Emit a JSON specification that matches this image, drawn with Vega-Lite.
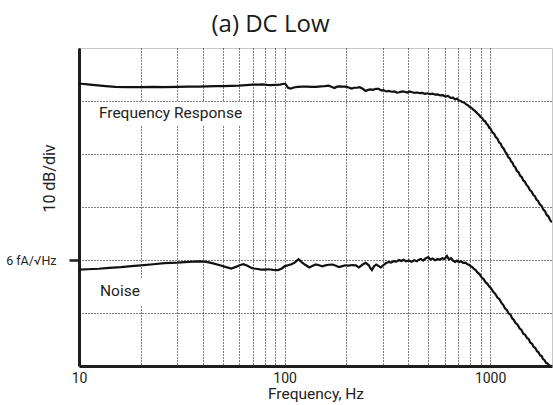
{
  "$schema": "https://vega.github.io/schema/vega-lite/v6.json",
  "width": 473,
  "height": 318,
  "autosize": {"type": "none"},
  "padding": {"left": 79, "top": 48, "right": 1, "bottom": 39},
  "title": {"text": "(a) DC Low", "font": "Open Sans", "fontSize": 24, "fontWeight": "normal", "color": "#1a1a1a", "dx": -45, "dy": 23, "offset": 15, "baseline": "alphabetic"},
  "config": {
    "view": {"stroke": "#c8c8c8", "strokeWidth": 1},
    "font": "Roboto, sans-serif"
  },
  "datasets": {
    "notes": [
      {"label": "Frequency Response", "bx1": 11.7, "bx2": 64.9, "by1": 25.3, "by2": 29.8, "tx": 12.5, "ty": 27.8},
      {"label": "Noise", "bx1": 11.7, "bx2": 21.4, "by1": -8.5, "by2": -3.4, "tx": 12.65, "ty": -5.9}
    ],
    "curves": [
      {"series": "fr", "freq": 10, "db": 33.3}, {"series": "fr", "freq": 11, "db": 33.15}, {"series": "fr", "freq": 12, "db": 33.0}, {"series": "fr", "freq": 13.5, "db": 32.8}, {"series": "fr", "freq": 15, "db": 32.65}, {"series": "fr", "freq": 17, "db": 32.6}, {"series": "fr", "freq": 20, "db": 32.6}, {"series": "fr", "freq": 23, "db": 32.65}, {"series": "fr", "freq": 26, "db": 32.6}, {"series": "fr", "freq": 30, "db": 32.65}, {"series": "fr", "freq": 34, "db": 32.7}, {"series": "fr", "freq": 38, "db": 32.7}, {"series": "fr", "freq": 42, "db": 32.75}, {"series": "fr", "freq": 46, "db": 32.8}, {"series": "fr", "freq": 50, "db": 32.8}, {"series": "fr", "freq": 55, "db": 32.85}, {"series": "fr", "freq": 60, "db": 32.9}, {"series": "fr", "freq": 65, "db": 33.0}, {"series": "fr", "freq": 70, "db": 33.1}, {"series": "fr", "freq": 75, "db": 33.1}, {"series": "fr", "freq": 78, "db": 33.15}, {"series": "fr", "freq": 82, "db": 33.05}, {"series": "fr", "freq": 86, "db": 33.0}, {"series": "fr", "freq": 90, "db": 33.05}, {"series": "fr", "freq": 95, "db": 33.1}, {"series": "fr", "freq": 99, "db": 33.25}, {"series": "fr", "freq": 101, "db": 33.2}, {"series": "fr", "freq": 104, "db": 32.5}, {"series": "fr", "freq": 107, "db": 32.35}, {"series": "fr", "freq": 111, "db": 32.55}, {"series": "fr", "freq": 116, "db": 32.65}, {"series": "fr", "freq": 122, "db": 32.7}, {"series": "fr", "freq": 128, "db": 32.7}, {"series": "fr", "freq": 135, "db": 32.65}, {"series": "fr", "freq": 142, "db": 32.65}, {"series": "fr", "freq": 150, "db": 32.75}, {"series": "fr", "freq": 157, "db": 32.8}, {"series": "fr", "freq": 164, "db": 32.9}, {"series": "fr", "freq": 170, "db": 32.65}, {"series": "fr", "freq": 175, "db": 32.45}, {"series": "fr", "freq": 180, "db": 32.7}, {"series": "fr", "freq": 185, "db": 32.75}, {"series": "fr", "freq": 192, "db": 32.7}, {"series": "fr", "freq": 198, "db": 32.7}, {"series": "fr", "freq": 205, "db": 32.55}, {"series": "fr", "freq": 212, "db": 32.35}, {"series": "fr", "freq": 218, "db": 32.5}, {"series": "fr", "freq": 225, "db": 32.5}, {"series": "fr", "freq": 232, "db": 32.6}, {"series": "fr", "freq": 240, "db": 32.3}, {"series": "fr", "freq": 248, "db": 31.9}, {"series": "fr", "freq": 255, "db": 32.1}, {"series": "fr", "freq": 262, "db": 32.2}, {"series": "fr", "freq": 270, "db": 32.1}, {"series": "fr", "freq": 278, "db": 32.3}, {"series": "fr", "freq": 287, "db": 32.3}, {"series": "fr", "freq": 295, "db": 32.0}, {"series": "fr", "freq": 303, "db": 32.05}, {"series": "fr", "freq": 312, "db": 31.8}, {"series": "fr", "freq": 322, "db": 31.9}, {"series": "fr", "freq": 332, "db": 31.75}, {"series": "fr", "freq": 342, "db": 31.8}, {"series": "fr", "freq": 352, "db": 31.6}, {"series": "fr", "freq": 362, "db": 31.65}, {"series": "fr", "freq": 373, "db": 31.8}, {"series": "fr", "freq": 384, "db": 31.75}, {"series": "fr", "freq": 395, "db": 31.6}, {"series": "fr", "freq": 406, "db": 31.8}, {"series": "fr", "freq": 418, "db": 31.65}, {"series": "fr", "freq": 430, "db": 31.55}, {"series": "fr", "freq": 442, "db": 31.6}, {"series": "fr", "freq": 455, "db": 31.5}, {"series": "fr", "freq": 468, "db": 31.55}, {"series": "fr", "freq": 481, "db": 31.35}, {"series": "fr", "freq": 495, "db": 31.45}, {"series": "fr", "freq": 510, "db": 31.3}, {"series": "fr", "freq": 525, "db": 31.4}, {"series": "fr", "freq": 540, "db": 31.2}, {"series": "fr", "freq": 556, "db": 31.25}, {"series": "fr", "freq": 572, "db": 31.05}, {"series": "fr", "freq": 589, "db": 31.1}, {"series": "fr", "freq": 606, "db": 30.85}, {"series": "fr", "freq": 624, "db": 30.95}, {"series": "fr", "freq": 642, "db": 30.6}, {"series": "fr", "freq": 660, "db": 30.65}, {"series": "fr", "freq": 676, "db": 30.3}, {"series": "fr", "freq": 690, "db": 30.45}, {"series": "fr", "freq": 705, "db": 30.1}, {"series": "fr", "freq": 720, "db": 30.0}, {"series": "fr", "freq": 735, "db": 29.75}, {"series": "fr", "freq": 750, "db": 29.7}, {"series": "fr", "freq": 765, "db": 29.35}, {"series": "fr", "freq": 780, "db": 29.2}, {"series": "fr", "freq": 795, "db": 28.85}, {"series": "fr", "freq": 810, "db": 28.75}, {"series": "fr", "freq": 825, "db": 28.4}, {"series": "fr", "freq": 840, "db": 28.2}, {"series": "fr", "freq": 855, "db": 27.9}, {"series": "fr", "freq": 870, "db": 27.6}, {"series": "fr", "freq": 885, "db": 27.35}, {"series": "fr", "freq": 900, "db": 26.95}, {"series": "fr", "freq": 915, "db": 26.8}, {"series": "fr", "freq": 930, "db": 26.3}, {"series": "fr", "freq": 945, "db": 26.2}, {"series": "fr", "freq": 960, "db": 25.7}, {"series": "fr", "freq": 975, "db": 25.5}, {"series": "fr", "freq": 990, "db": 24.95}, {"series": "fr", "freq": 1005, "db": 24.75}, {"series": "fr", "freq": 1025, "db": 24.1}, {"series": "fr", "freq": 1045, "db": 23.85}, {"series": "fr", "freq": 1065, "db": 23.2}, {"series": "fr", "freq": 1085, "db": 22.9}, {"series": "fr", "freq": 1105, "db": 22.2}, {"series": "fr", "freq": 1125, "db": 21.95}, {"series": "fr", "freq": 1145, "db": 21.3}, {"series": "fr", "freq": 1165, "db": 21.0}, {"series": "fr", "freq": 1185, "db": 20.4}, {"series": "fr", "freq": 1205, "db": 20.05}, {"series": "fr", "freq": 1225, "db": 19.4}, {"series": "fr", "freq": 1245, "db": 19.2}, {"series": "fr", "freq": 1265, "db": 18.6}, {"series": "fr", "freq": 1285, "db": 18.35}, {"series": "fr", "freq": 1305, "db": 17.7}, {"series": "fr", "freq": 1325, "db": 17.5}, {"series": "fr", "freq": 1350, "db": 16.8}, {"series": "fr", "freq": 1375, "db": 16.55}, {"series": "fr", "freq": 1400, "db": 15.9}, {"series": "fr", "freq": 1425, "db": 15.65}, {"series": "fr", "freq": 1450, "db": 15.0}, {"series": "fr", "freq": 1475, "db": 14.8}, {"series": "fr", "freq": 1500, "db": 14.2}, {"series": "fr", "freq": 1530, "db": 13.85}, {"series": "fr", "freq": 1560, "db": 13.2}, {"series": "fr", "freq": 1590, "db": 12.95}, {"series": "fr", "freq": 1620, "db": 12.3}, {"series": "fr", "freq": 1650, "db": 12.05}, {"series": "fr", "freq": 1680, "db": 11.4}, {"series": "fr", "freq": 1710, "db": 11.15}, {"series": "fr", "freq": 1745, "db": 10.5}, {"series": "fr", "freq": 1780, "db": 10.2}, {"series": "fr", "freq": 1815, "db": 9.5}, {"series": "fr", "freq": 1850, "db": 9.2}, {"series": "fr", "freq": 1885, "db": 8.5}, {"series": "fr", "freq": 1920, "db": 8.25}, {"series": "fr", "freq": 1960, "db": 7.5}, {"series": "fr", "freq": 2000, "db": 7.1},
      {"series": "noise", "freq": 10, "db": -1.8}, {"series": "noise", "freq": 11, "db": -1.75}, {"series": "noise", "freq": 12.5, "db": -1.65}, {"series": "noise", "freq": 14, "db": -1.5}, {"series": "noise", "freq": 16, "db": -1.35}, {"series": "noise", "freq": 18, "db": -1.15}, {"series": "noise", "freq": 20, "db": -1.0}, {"series": "noise", "freq": 23, "db": -0.8}, {"series": "noise", "freq": 26, "db": -0.6}, {"series": "noise", "freq": 30, "db": -0.5}, {"series": "noise", "freq": 34, "db": -0.35}, {"series": "noise", "freq": 38, "db": -0.25}, {"series": "noise", "freq": 41, "db": -0.3}, {"series": "noise", "freq": 44, "db": -0.55}, {"series": "noise", "freq": 48, "db": -0.95}, {"series": "noise", "freq": 52, "db": -1.35}, {"series": "noise", "freq": 55, "db": -1.6}, {"series": "noise", "freq": 58, "db": -1.3}, {"series": "noise", "freq": 61, "db": -0.95}, {"series": "noise", "freq": 63, "db": -0.8}, {"series": "noise", "freq": 66, "db": -1.1}, {"series": "noise", "freq": 69, "db": -1.5}, {"series": "noise", "freq": 71, "db": -1.6}, {"series": "noise", "freq": 74, "db": -1.7}, {"series": "noise", "freq": 77, "db": -1.8}, {"series": "noise", "freq": 80, "db": -1.8}, {"series": "noise", "freq": 84, "db": -1.75}, {"series": "noise", "freq": 88, "db": -1.85}, {"series": "noise", "freq": 93, "db": -1.9}, {"series": "noise", "freq": 97, "db": -1.6}, {"series": "noise", "freq": 100, "db": -1.2}, {"series": "noise", "freq": 104, "db": -1.0}, {"series": "noise", "freq": 108, "db": -0.8}, {"series": "noise", "freq": 112, "db": -0.5}, {"series": "noise", "freq": 117, "db": 0.15}, {"series": "noise", "freq": 121, "db": -0.4}, {"series": "noise", "freq": 126, "db": -0.9}, {"series": "noise", "freq": 132, "db": -1.4}, {"series": "noise", "freq": 137, "db": -1.1}, {"series": "noise", "freq": 142, "db": -0.85}, {"series": "noise", "freq": 147, "db": -1.0}, {"series": "noise", "freq": 153, "db": -1.2}, {"series": "noise", "freq": 158, "db": -1.0}, {"series": "noise", "freq": 164, "db": -0.9}, {"series": "noise", "freq": 171, "db": -0.85}, {"series": "noise", "freq": 178, "db": -1.1}, {"series": "noise", "freq": 184, "db": -1.35}, {"series": "noise", "freq": 191, "db": -1.15}, {"series": "noise", "freq": 198, "db": -1.0}, {"series": "noise", "freq": 205, "db": -1.05}, {"series": "noise", "freq": 213, "db": -0.95}, {"series": "noise", "freq": 222, "db": -1.0}, {"series": "noise", "freq": 230, "db": -1.4}, {"series": "noise", "freq": 239, "db": -0.9}, {"series": "noise", "freq": 248, "db": -0.55}, {"series": "noise", "freq": 257, "db": -1.0}, {"series": "noise", "freq": 262, "db": -1.6}, {"series": "noise", "freq": 266, "db": -1.9}, {"series": "noise", "freq": 272, "db": -1.2}, {"series": "noise", "freq": 279, "db": -0.85}, {"series": "noise", "freq": 286, "db": -1.1}, {"series": "noise", "freq": 294, "db": -1.4}, {"series": "noise", "freq": 302, "db": -1.0}, {"series": "noise", "freq": 311, "db": -0.6}, {"series": "noise", "freq": 321, "db": -0.35}, {"series": "noise", "freq": 330, "db": -0.5}, {"series": "noise", "freq": 340, "db": -0.2}, {"series": "noise", "freq": 350, "db": -0.3}, {"series": "noise", "freq": 360, "db": 0.0}, {"series": "noise", "freq": 370, "db": -0.2}, {"series": "noise", "freq": 380, "db": 0.05}, {"series": "noise", "freq": 390, "db": -0.25}, {"series": "noise", "freq": 402, "db": -0.1}, {"series": "noise", "freq": 415, "db": -0.35}, {"series": "noise", "freq": 427, "db": -0.05}, {"series": "noise", "freq": 440, "db": -0.25}, {"series": "noise", "freq": 448, "db": 0.0}, {"series": "noise", "freq": 460, "db": 0.2}, {"series": "noise", "freq": 472, "db": -0.1}, {"series": "noise", "freq": 485, "db": 0.3}, {"series": "noise", "freq": 500, "db": 0.55}, {"series": "noise", "freq": 512, "db": 0.1}, {"series": "noise", "freq": 525, "db": 0.3}, {"series": "noise", "freq": 540, "db": -0.05}, {"series": "noise", "freq": 555, "db": 0.2}, {"series": "noise", "freq": 570, "db": 0.05}, {"series": "noise", "freq": 585, "db": 0.35}, {"series": "noise", "freq": 600, "db": 0.2}, {"series": "noise", "freq": 617, "db": 0.75}, {"series": "noise", "freq": 630, "db": 0.1}, {"series": "noise", "freq": 645, "db": 0.35}, {"series": "noise", "freq": 660, "db": -0.1}, {"series": "noise", "freq": 676, "db": -0.35}, {"series": "noise", "freq": 690, "db": -0.1}, {"series": "noise", "freq": 705, "db": -0.4}, {"series": "noise", "freq": 720, "db": -0.25}, {"series": "noise", "freq": 740, "db": -0.55}, {"series": "noise", "freq": 760, "db": -0.5}, {"series": "noise", "freq": 775, "db": -0.8}, {"series": "noise", "freq": 790, "db": -0.9}, {"series": "noise", "freq": 805, "db": -1.2}, {"series": "noise", "freq": 820, "db": -1.35}, {"series": "noise", "freq": 835, "db": -1.7}, {"series": "noise", "freq": 850, "db": -1.9}, {"series": "noise", "freq": 870, "db": -2.4}, {"series": "noise", "freq": 890, "db": -2.7}, {"series": "noise", "freq": 910, "db": -3.3}, {"series": "noise", "freq": 930, "db": -3.6}, {"series": "noise", "freq": 950, "db": -4.2}, {"series": "noise", "freq": 970, "db": -4.5}, {"series": "noise", "freq": 990, "db": -5.0}, {"series": "noise", "freq": 1010, "db": -5.3}, {"series": "noise", "freq": 1035, "db": -6.0}, {"series": "noise", "freq": 1060, "db": -6.4}, {"series": "noise", "freq": 1085, "db": -7.1}, {"series": "noise", "freq": 1110, "db": -7.4}, {"series": "noise", "freq": 1135, "db": -8.1}, {"series": "noise", "freq": 1160, "db": -8.5}, {"series": "noise", "freq": 1180, "db": -9.1}, {"series": "noise", "freq": 1205, "db": -9.4}, {"series": "noise", "freq": 1230, "db": -10.1}, {"series": "noise", "freq": 1255, "db": -10.3}, {"series": "noise", "freq": 1280, "db": -11.0}, {"series": "noise", "freq": 1305, "db": -11.3}, {"series": "noise", "freq": 1330, "db": -11.9}, {"series": "noise", "freq": 1360, "db": -12.2}, {"series": "noise", "freq": 1390, "db": -12.9}, {"series": "noise", "freq": 1420, "db": -13.2}, {"series": "noise", "freq": 1450, "db": -13.9}, {"series": "noise", "freq": 1480, "db": -14.1}, {"series": "noise", "freq": 1510, "db": -14.7}, {"series": "noise", "freq": 1540, "db": -14.9}, {"series": "noise", "freq": 1570, "db": -15.6}, {"series": "noise", "freq": 1600, "db": -15.8}, {"series": "noise", "freq": 1630, "db": -16.4}, {"series": "noise", "freq": 1660, "db": -16.6}, {"series": "noise", "freq": 1690, "db": -17.2}, {"series": "noise", "freq": 1720, "db": -17.4}, {"series": "noise", "freq": 1750, "db": -18.0}, {"series": "noise", "freq": 1780, "db": -18.1}, {"series": "noise", "freq": 1810, "db": -18.7}, {"series": "noise", "freq": 1840, "db": -18.9}, {"series": "noise", "freq": 1870, "db": -19.4}, {"series": "noise", "freq": 1900, "db": -19.5}, {"series": "noise", "freq": 1940, "db": -19.9}, {"series": "noise", "freq": 2000, "db": -20.0}
    ]
  },
  "layer": [
    {
      "data": {"name": "curves"},
      "mark": {"type": "line", "color": "#111111", "strokeWidth": 2.2, "clip": true, "interpolate": "linear"},
      "encoding": {
        "x": {
          "field": "freq", "type": "quantitative", "title": "Frequency, Hz",
          "scale": {"type": "log", "domain": [10, 2000], "nice": false},
          "axis": {
            "values": [10, 20, 30, 40, 50, 60, 70, 80, 90, 100, 200, 300, 400, 500, 600, 700, 800, 900, 1000],
            "labelExpr": "(datum.value == 10 || datum.value == 100 || datum.value == 1000) ? format(datum.value, 'd') : ''",
            "ticks": false, "grid": true, "gridDash": [1, 2], "gridColor": "#000000", "gridWidth": 1,
            "domain": true, "domainWidth": 3, "domainColor": "#1e1e1e",
            "labelFont": "Roboto, sans-serif", "labelFontSize": 14, "labelColor": "#222222", "labelPadding": 5, "labelFlush": false,
            "titleFont": "Roboto, sans-serif", "titleFontSize": 15.5, "titleFontWeight": "normal", "titleColor": "#222222", "titlePadding": 1
          }
        },
        "y": {
          "field": "db", "type": "quantitative", "title": "10 dB/div",
          "scale": {"domain": [-20, 40], "nice": false, "zero": false},
          "axis": {
            "values": [-10, 0, 10, 20, 30],
            "labelExpr": "datum.value == 0 ? '6 fA/√Hz' : ''",
            "grid": true, "gridDash": [1, 2], "gridColor": "#000000", "gridWidth": 1,
            "ticks": true, "tickSize": 10, "tickWidth": 2.5,
            "tickColor": {"condition": {"test": "datum.value == 0", "value": "#1e1e1e"}, "value": "transparent"},
            "domain": true, "domainWidth": 3, "domainColor": "#1e1e1e",
            "labelFont": "Roboto, sans-serif", "labelFontSize": 12.5, "labelColor": "#222222", "labelPadding": 13,
            "titleFont": "Roboto, sans-serif", "titleFontSize": 16, "titleFontWeight": "normal", "titleColor": "#222222",
            "titleAngle": 270, "titleX": -25, "titleY": 130, "titleAlign": "center", "titleBaseline": "alphabetic"
          }
        },
        "detail": {"field": "series", "type": "nominal"}
      }
    },
    {
      "data": {"name": "notes"},
      "mark": {"type": "rect", "fill": "white", "stroke": null},
      "encoding": {
        "x": {"field": "bx1", "type": "quantitative", "title": "Frequency, Hz"},
        "x2": {"field": "bx2"},
        "y": {"field": "by1", "type": "quantitative", "title": "10 dB/div"},
        "y2": {"field": "by2"}
      }
    },
    {
      "data": {"name": "notes"},
      "mark": {"type": "text", "align": "left", "baseline": "middle", "font": "Roboto, sans-serif", "fontSize": 15.5, "color": "#222222"},
      "encoding": {
        "x": {"field": "tx", "type": "quantitative", "title": "Frequency, Hz"},
        "y": {"field": "ty", "type": "quantitative", "title": "10 dB/div"},
        "text": {"field": "label"}
      }
    },
    {
      "mark": {"type": "rule", "color": "#1e1e1e", "strokeWidth": 2},
      "encoding": {"y": {"datum": 40, "type": "quantitative"}}
    }
  ]
}
